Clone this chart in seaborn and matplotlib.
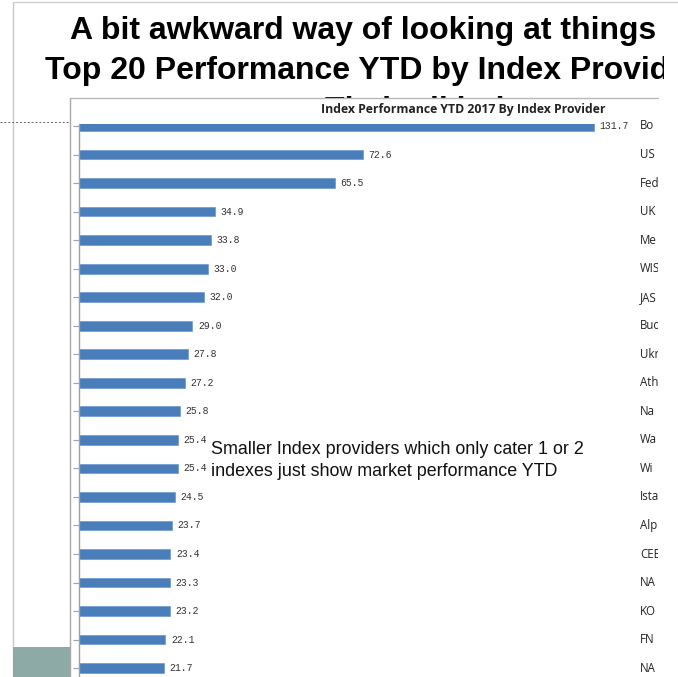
import matplotlib
matplotlib.use("Agg")
import matplotlib.pyplot as plt
import matplotlib.patches as mpatches
import matplotlib.transforms as mtrans
import seaborn as sns
import pandas as pd

# ---- data ----
providers = ["Bo", "US", "Fed", "UK", "Me", "WIS", "JAS", "Bud", "Ukr", "Ath",
             "Na", "Wa", "Wi", "Ista", "Alp", "CEE", "NA", "KO", "FN", "NA"]
performance = [131.7, 72.6, 65.5, 34.9, 33.8, 33.0, 32.0, 29.0, 27.8, 27.2,
               25.8, 25.4, 25.4, 24.5, 23.7, 23.4, 23.3, 23.2, 22.1, 21.7]
slide_title_1 = "A bit awkward way of looking at things"
slide_title_2 = "Top 20 Performance YTD by Index Providers"
slide_title_3 = "Their all indexes"
chart_title = "Index Performance YTD 2017 By Index Provider"
note_1 = "Smaller Index providers which only cater 1 or 2"
note_2 = "indexes just show market performance YTD"

W, H = 678, 677
sns.set_theme(style="white")
plt.rcParams["font.family"] = ["Liberation Sans", "DejaVu Sans"]

fig = plt.figure(figsize=(W / 100, H / 100), dpi=100)
fig.patch.set_facecolor("white")

def fx(x):
    return x / W

def fy(y):
    return 1 - y / H

title_font = ["Liberation Sans", "DejaVu Sans"]

# slide frame
fig.add_artist(plt.Line2D([fx(13), fx(13)], [0, fy(2)], transform=fig.transFigure,
                          color="#c8c8c8", lw=1, zorder=0.2))
fig.add_artist(plt.Line2D([fx(13), 1], [fy(2), fy(2)], transform=fig.transFigure,
                          color="#d0d0d0", lw=1, zorder=0.2))
fig.add_artist(mpatches.Rectangle((fx(13), 0), fx(70) - fx(13), fy(647),
                                  transform=fig.transFigure, facecolor="#8eaaa6",
                                  edgecolor="none", zorder=0.3))
fig.add_artist(plt.Line2D([0, fx(70)], [fy(122), fy(122)], transform=fig.transFigure,
                          color="#666666", lw=0.7, ls=(0, (2, 2)), zorder=0.3))

# slide titles (the slide picture is cropped on the right)
title_clip = mtrans.TransformedBbox(mtrans.Bbox([[0, 0], [fx(664), 1]]), fig.transFigure)
t1 = fig.text(fx(363), fy(39), slide_title_1, family=title_font, weight="bold", fontsize=23,
              ha="center", va="baseline", color="black", zorder=0.5)
t2 = fig.text(fx(45), fy(79), slide_title_2, family=title_font, weight="bold", fontsize=23,
              ha="left", va="baseline", color="black", zorder=0.5)
t3 = fig.text(fx(450), fy(119), slide_title_3, family=title_font, weight="bold", fontsize=23,
              ha="center", va="baseline", color="black", zorder=0.5)
for t in (t1, t2, t3):
    t.set_clip_box(title_clip)
    t.set_clip_on(True)

# chart picture box
fig.add_artist(mpatches.Rectangle((fx(70), -0.01), fx(700) - fx(70), fy(98) + 0.01,
                                  transform=fig.transFigure, facecolor="white",
                                  edgecolor="none", zorder=1))
fig.add_artist(plt.Line2D([fx(70), fx(70)], [0, fy(98)], transform=fig.transFigure,
                          color="#a8a8a8", lw=1, zorder=1.1))
fig.add_artist(plt.Line2D([fx(70), fx(658)], [fy(98), fy(98)], transform=fig.transFigure,
                          color="#b8b8b8", lw=1, zorder=1.1))

fig.text(fx(463), fy(110), chart_title, family=["Open Sans", "DejaVu Sans"],
         weight="bold", fontsize=8.8, ha="center", va="center", color="#222222", zorder=6)

# bar chart
ax_left, ax_right, ax_top, ax_bot = 79, 626, 124, 677
ax = fig.add_axes([fx(ax_left), fy(ax_bot), fx(ax_right) - fx(ax_left), fy(ax_top) - fy(ax_bot)])
ax.set_zorder(5)
ax.patch.set_alpha(0)

df = pd.DataFrame({"key": [f"r{i}" for i in range(len(providers))],
                   "value": performance})
sns.barplot(data=df, x="value", y="key", orient="h", color="#4a7ebb",
            saturation=1, width=0.34, ax=ax, edgecolor="#5b8ccb", linewidth=0.4)
ax.bar_label(ax.containers[0], fmt="%.1f", padding=4, fontsize=7,
             family=["Liberation Mono", "DejaVu Sans Mono"], color="#333333")

ax.set_xlim(0, 140)
ax.set_ylim(19.31, -0.07)
ax.set_yticks(range(len(providers)))
ax.set_yticklabels([])
ax.set_xticks([])
ax.set_xlabel("")
ax.set_ylabel("")
for s in ["top", "right", "bottom"]:
    ax.spines[s].set_visible(False)
ax.spines["left"].set_color("#a0a0a0")
ax.spines["left"].set_linewidth(1)
ax.tick_params(axis="y", left=True, length=4, width=0.8, color="#a0a0a0", direction="out")

# provider labels on the right (clipped like the cropped picture)
clip = mtrans.TransformedBbox(mtrans.Bbox([[0, 0], [fx(658), 1]]), fig.transFigure)
blend = mtrans.blended_transform_factory(fig.transFigure, ax.transData)
for i, name in enumerate(providers):
    t = fig.text(fx(640), i, name, transform=blend, family=["Open Sans", "DejaVu Sans"],
                 fontsize=8.3, ha="left", va="center", color="#222222", zorder=6)
    t.set_clip_box(clip)
    t.set_clip_on(True)

# note
fig.text(fx(211), fy(449), note_1, fontsize=12.9, ha="left", va="center",
         color="#111111", zorder=10)
fig.text(fx(211), fy(471), note_2, fontsize=12.9, ha="left", va="center",
         color="#111111", zorder=10)

fig.savefig("out.png", dpi=100)
